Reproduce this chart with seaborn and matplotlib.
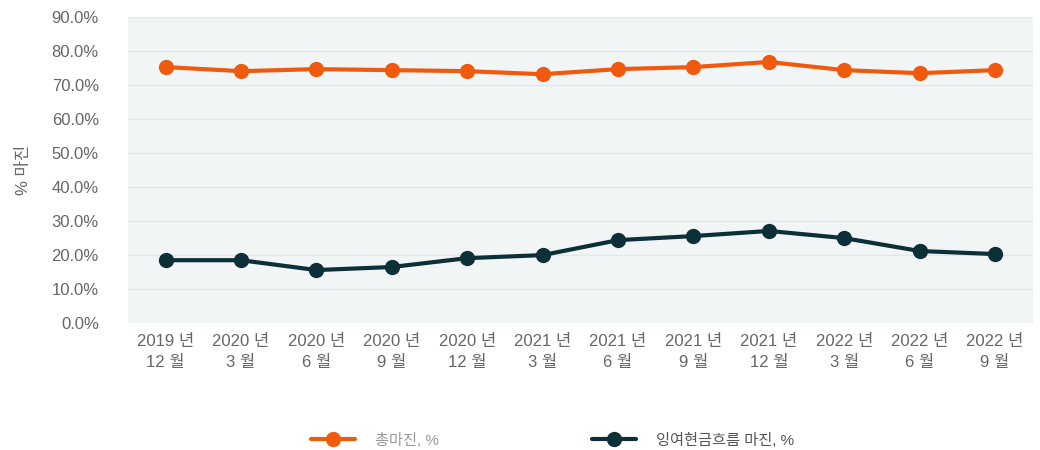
import matplotlib
matplotlib.use("Agg")
import matplotlib.pyplot as plt
import pandas as pd
import seaborn as sns
from matplotlib.ticker import FuncFormatter

periods = ["2019 년\n12 월", "2020 년\n3 월", "2020 년\n6 월", "2020 년\n9 월",
           "2020 년\n12 월", "2021 년\n3 월", "2021 년\n6 월", "2021 년\n9 월",
           "2021 년\n12 월", "2022 년\n3 월", "2022 년\n6 월", "2022 년\n9 월"]
gross_margin = [75.3, 74.1, 74.7, 74.4, 74.1, 73.2, 74.7, 75.3, 76.8, 74.4, 73.5, 74.4]
fcf_margin = [18.5, 18.5, 15.6, 16.5, 19.1, 20.0, 24.4, 25.6, 27.1, 25.0, 21.2, 20.3]
series_names = ["총마진, %", "잉여현금흐름 마진, %"]
colors = ["#f05a0e", "#0d2f38"]

df = pd.DataFrame({
    "idx": list(range(len(periods))) * 2,
    "value": gross_margin + fcf_margin,
    "series": [series_names[0]] * len(periods) + [series_names[1]] * len(periods),
})

sns.set_theme(style="white")
plt.rcParams["font.family"] = ["Liberation Sans", "Noto Sans CJK KR", "DejaVu Sans"]

fig = plt.figure(figsize=(10.4, 4.5), dpi=100)
ax = fig.add_axes([0.123, 0.282, 0.870, 0.680])
ax.set_facecolor("#f2f5f6")

sns.lineplot(data=df, x="idx", y="value", hue="series", palette=colors,
             marker="o", markersize=11, markeredgewidth=0, linewidth=3,
             ax=ax, legend=False)

ax.set_xlim(-0.5, len(periods) - 0.5)
ax.set_ylim(0, 90)
ax.set_yticks(range(0, 91, 10))
ax.yaxis.set_major_formatter(FuncFormatter(lambda v, _: f"{v:.1f}%"))
ax.set_xticks(range(len(periods)))
ax.set_xticklabels(periods, linespacing=1.5)
ax.grid(axis="y", color="#e2e7ea", linewidth=1)
ax.set_axisbelow(True)
for s in ax.spines.values():
    s.set_visible(False)
ax.tick_params(axis="both", colors="#666666", labelsize=12, length=0)
ax.tick_params(axis="x", pad=8)
ax.tick_params(axis="y", pad=21)
ax.set_xlabel("")
ax.set_ylabel("% 마진", color="#666666", fontsize=12, labelpad=15)

handles = [plt.Line2D([], [], color=c, marker="o", markersize=11, linewidth=3,
                      markeredgewidth=0) for c in colors]
leg = fig.legend(handles, series_names, loc="center", bbox_to_anchor=(0.531, 0.022),
                 ncol=2, frameon=False, fontsize=11, columnspacing=10,
                 handlelength=2.9, handletextpad=1.3)
leg.get_texts()[0].set_color("#999999")
leg.get_texts()[1].set_color("#555555")

fig.savefig("out.png", dpi=100)
